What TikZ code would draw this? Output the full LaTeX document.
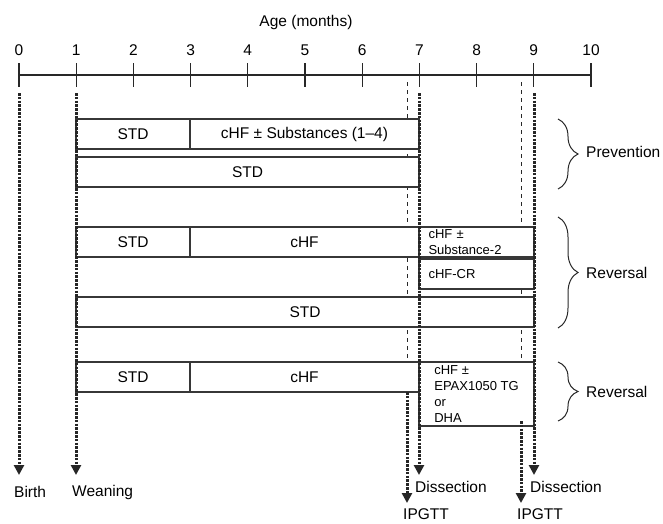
\documentclass[tikz,border=0pt]{standalone}
\usepackage{fontspec}
\setmainfont{Liberation Sans}
\usepackage{tikz}
\usetikzlibrary{arrows.meta, positioning, decorations.pathreplacing}
\definecolor{lineink}{RGB}{40, 40, 40}
\definecolor{boxink}{RGB}{55, 55, 55}

\begin{document}
\begin{tikzpicture}[x=1pt, y=-1pt, >=Latex,
    every node/.style={font=\fontsize{15.5}{18}\selectfont, text=black},
    diet/.style={draw=boxink, line width=1.1pt, fill=white, inner sep=0pt, minimum height=30pt},
    dietsmall/.style={diet, font=\fontsize{13}{16}\selectfont, align=left},
    event/.style={draw=black!85, line width=3pt, dash pattern=on 2.6pt off 1.2pt, -{Triangle[width=10pt, length=10pt]}},
    guide/.style={draw=lineink, line width=0.8pt, dash pattern=on 4pt off 4pt},
    phase/.style={draw=lineink, line width=1pt, decorate, decoration={brace, amplitude=20pt}},
    evtlabel/.style={anchor=west, inner sep=0pt}]
    \useasboundingbox (0,0) rectangle (663,523);

    % time axis
    \node (agetitle) at (306,22) {Age (months)};
    \coordinate (axis0) at (19,75);
    \coordinate (axis10) at (591,75);
    \draw[lineink, line width=1.1pt] (axis0) -- (axis10);
    \foreach \m in {0,...,10} {
        \draw[lineink, line width=1.2pt] (19+57.2*\m,63) -- (19+57.2*\m,87);
        \node (tick\m) at (19+57.2*\m,50) {\m};
    }

    % IPGTT guides
    \coordinate (ipAtop) at (407,82);
    \coordinate (ipAlow) at (407,392);
    \coordinate (ipAtip) at (407,503);
    \coordinate (ipBtop) at (521,82);
    \coordinate (ipBlow) at (521,421);
    \coordinate (ipBtip) at (521,503);
    \draw[guide] (ipAtop) -- (ipAlow);
    \draw[guide] (ipBtop) -- (ipBlow);

    % diet groups
    \node[diet, minimum width=114pt] (std1) at (133,134) {STD};
    \node[diet, minimum width=229pt] (chf1) at (304.5,134) {cHF ± Substances (1–4)};
    \node[diet, minimum width=343pt] (std2) at (247.5,172) {STD};

    \node[diet, minimum width=114pt] (std3) at (133,242) {STD};
    \node[diet, minimum width=229pt] (chf3) at (304.5,242) {cHF};
    \node[dietsmall, minimum width=115pt, text width=96pt] (sub3) at (476.5,242) {cHF ±\\Substance-2};
    \node[dietsmall, minimum width=115pt, text width=96pt] (cr4) at (476.5,274) {cHF-CR};
    \node[diet, minimum width=458pt] (std5) at (305,312) {STD};

    \node[diet, minimum width=114pt] (std6) at (133,377) {STD};
    \node[diet, minimum width=229pt] (chf6) at (304.5,377) {cHF};
    \node[dietsmall, minimum width=115pt, minimum height=64pt] (epa6) at (476.5,394) {cHF ±\\EPAX1050 TG\\or\\DHA};

    % events
    \coordinate (birthtop) at (19,93);
    \coordinate (birthtip) at (19,475);
    \coordinate (weantop) at (76,93);
    \coordinate (weantip) at (76,475);
    \coordinate (dissAtop) at (419,93);
    \coordinate (dissAtip) at (419,475);
    \coordinate (dissBtop) at (534,93);
    \coordinate (dissBtip) at (534,475);
    \draw[event] (birthtop) -- (birthtip);
    \draw[event] (weantop) -- (weantip);
    \draw[event] (dissAtop) -- (dissAtip);
    \draw[event] (dissBtop) -- (dissBtip);
    \draw[event] (ipAlow) -- (ipAtip);
    \draw[event] (ipBlow) -- (ipBtip);

    \node[evtlabel] (birth) at (14,492) {Birth};
    \node[evtlabel] (weaning) at (72,492) {Weaning};
    \node[evtlabel] (dissA) at (415,487) {Dissection};
    \node[evtlabel] (dissB) at (530,487) {Dissection};
    \node[evtlabel] (ipgttA) at (403,514) {IPGTT};
    \node[evtlabel] (ipgttB) at (517,514) {IPGTT};

    % study arms
    \coordinate (prevtop) at (558,119);
    \coordinate (prevbot) at (558,189);
    \coordinate (revAtop) at (558,217);
    \coordinate (revAbot) at (558,328);
    \coordinate (revBtop) at (558,362);
    \coordinate (revBbot) at (558,421);
    \draw[phase] (prevtop) -- (prevbot);
    \draw[phase] (revAtop) -- (revAbot);
    \draw[phase] (revBtop) -- (revBbot);
    \node[evtlabel] (prevention) at (586,152) {Prevention};
    \node[evtlabel] (reversalA) at (586,273) {Reversal};
    \node[evtlabel] (reversalB) at (586,392) {Reversal};
\end{tikzpicture}
\end{document}
